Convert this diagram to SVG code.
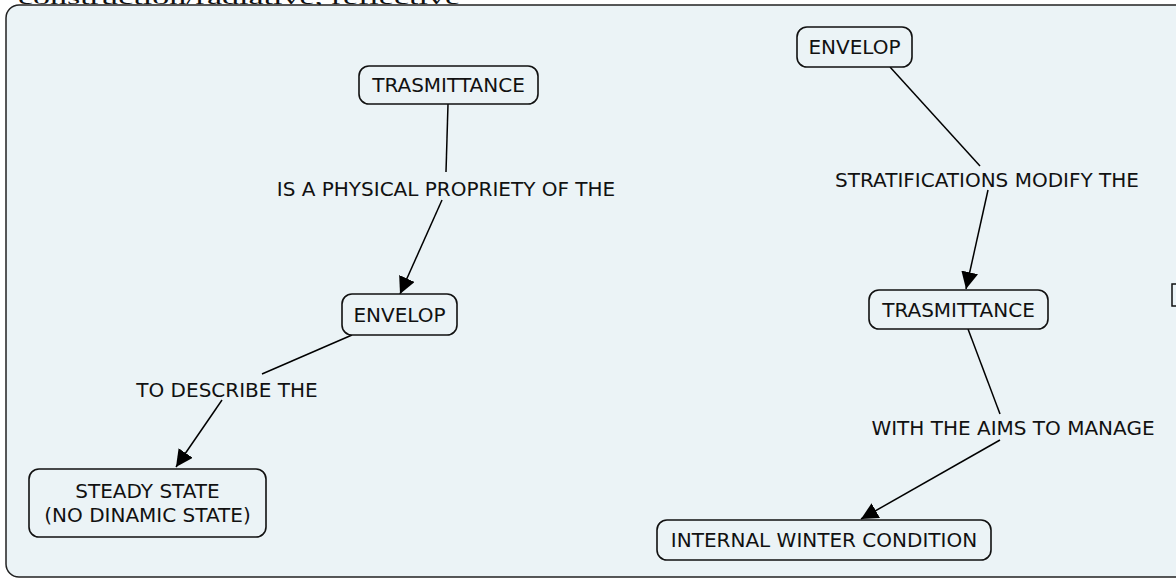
<svg xmlns="http://www.w3.org/2000/svg" width="1176" height="580" viewBox="0 0 1176 580">
<defs>
<style>
.bg{fill:#ebf3f6;stroke:#222;stroke-width:1.5}
.node rect{fill:#ebf3f6;stroke:#111;stroke-width:1.6}
text{font-family:"DejaVu Sans",Verdana,sans-serif;font-size:20px;fill:#111;text-anchor:middle}
.edge line{stroke:#000;stroke-width:1.5}
</style>
<marker id="arr" viewBox="0 0 10 10" refX="10" refY="5" markerWidth="17" markerHeight="17" markerUnits="userSpaceOnUse" orient="auto"><path d="M0,0 L10,5 L0,10 z" fill="#000"/></marker>
</defs>
<text x="18" y="4" style="font-family:'Liberation Serif',serif;font-size:18px;text-anchor:start" textLength="442" lengthAdjust="spacingAndGlyphs">construction/radiative, reflective</text>
<rect class="bg" x="6" y="5" width="1182" height="572" rx="13"/>
<rect x="1172" y="284" width="20" height="22" fill="#ebf3f6" stroke="#111" stroke-width="1.5"/>
<g class="edge" id="connectors">
<line x1="448" y1="104" x2="446" y2="172"/>
<line x1="442" y1="200" x2="400" y2="294" marker-end="url(#arr)"/>
<line x1="352" y1="335" x2="262" y2="374"/>
<line x1="222" y1="400" x2="176" y2="467" marker-end="url(#arr)"/>
<line x1="890" y1="67" x2="980" y2="166"/>
<line x1="988" y1="190" x2="966" y2="289" marker-end="url(#arr)"/>
<line x1="968" y1="329" x2="1000" y2="414"/>
<line x1="1000" y1="440" x2="861" y2="519" marker-end="url(#arr)"/>
</g>
<g id="lbl1"><text x="446" y="196">IS A PHYSICAL PROPRIETY OF THE</text></g>
<g id="lbl2"><text x="227" y="397">TO DESCRIBE THE</text></g>
<g id="lbl3"><text x="987" y="187">STRATIFICATIONS MODIFY THE</text></g>
<g id="lbl4"><text x="1013" y="435">WITH THE AIMS TO MANAGE</text></g>
<g class="node" id="n_trasm1"><rect x="359" y="66" width="179" height="38" rx="10"/><text x="448.5" y="92">TRASMITTANCE</text></g>
<g class="node" id="n_env1"><rect x="342" y="294" width="115" height="41" rx="10"/><text x="399.5" y="322">ENVELOP</text></g>
<g class="node" id="n_steady"><rect x="29" y="469" width="237" height="68" rx="10"/><text x="147.5" y="498">STEADY STATE</text><text x="147.5" y="522">(NO DINAMIC STATE)</text></g>
<g class="node" id="n_env2"><rect x="797" y="27" width="115" height="40" rx="10"/><text x="854.5" y="54">ENVELOP</text></g>
<g class="node" id="n_trasm2"><rect x="869" y="290" width="179" height="39" rx="10"/><text x="958.5" y="317">TRASMITTANCE</text></g>
<g class="node" id="n_iwc"><rect x="657" y="520" width="334" height="40" rx="10"/><text x="824" y="547">INTERNAL WINTER CONDITION</text></g>
</svg>
